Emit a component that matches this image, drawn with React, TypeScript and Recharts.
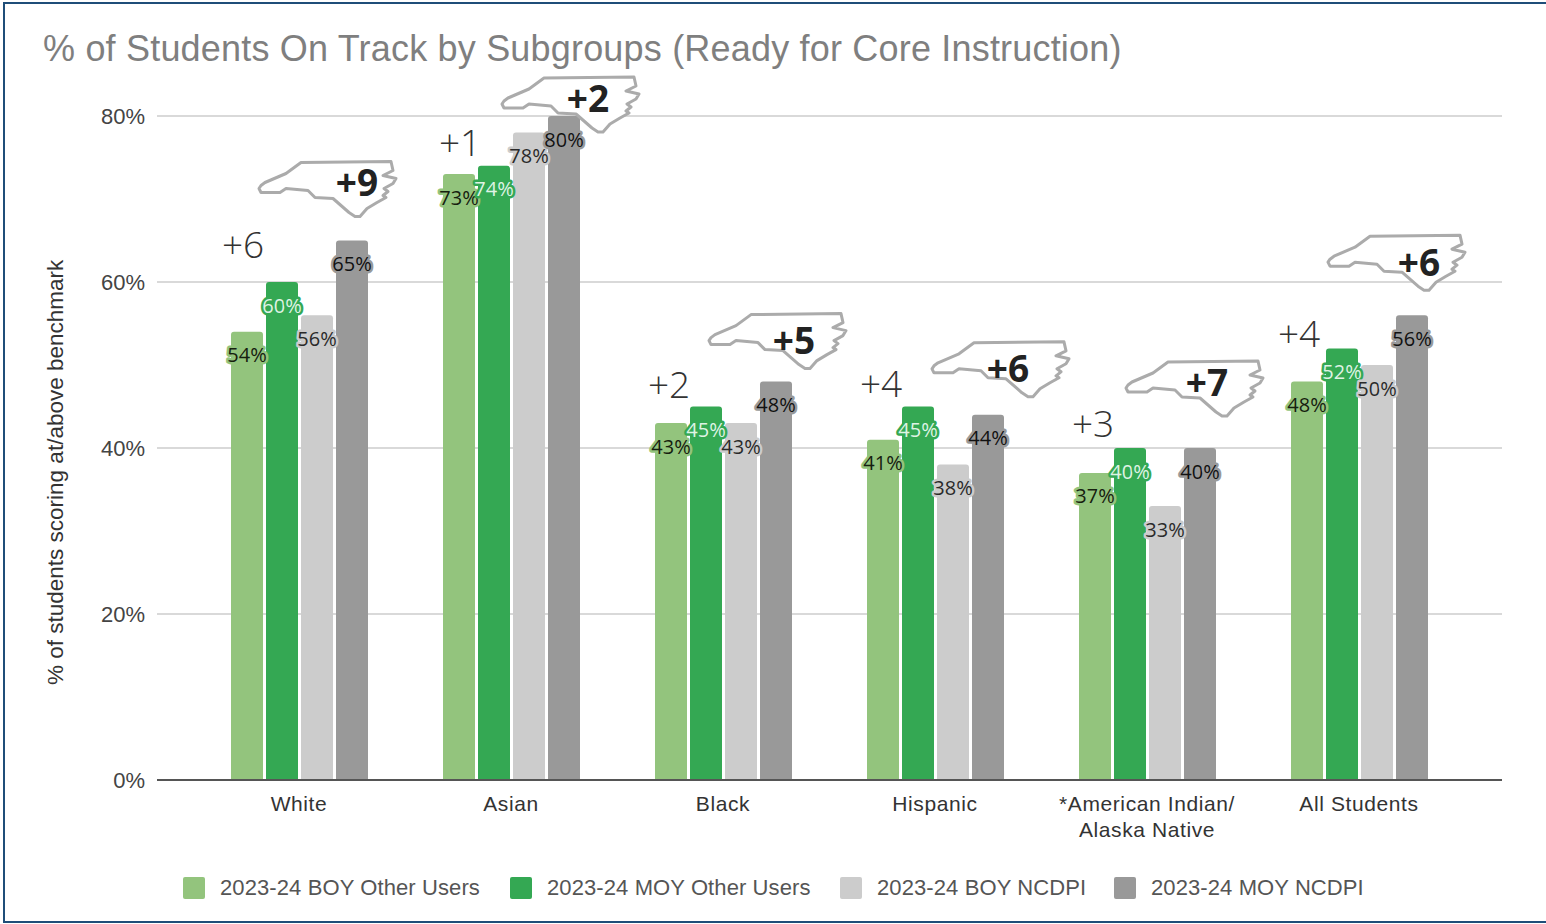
import React from "react";
import { BarChart, Bar, XAxis, YAxis, CartesianGrid, Legend, LabelList } from "recharts";

const categories = ["White", "Asian", "Black", "Hispanic", "*American Indian/ Alaska Native", "All Students"];
const boyOther = [54, 73, 43, 41, 37, 48];
const moyOther = [60, 74, 45, 45, 40, 52];
const boyNcdpi = [56, 78, 43, 38, 33, 50];
const moyNcdpi = [65, 80, 48, 44, 40, 56];
const deltaOther = [6, 1, 2, 4, 3, 4];
const deltaNcdpi = [9, 2, 5, 6, 7, 6];
const yTicks = [0, 20, 40, 60, 80];

const seriesNames = ["2023-24 BOY Other Users", "2023-24 MOY Other Users", "2023-24 BOY NCDPI", "2023-24 MOY NCDPI"];
const seriesColors = ["#93c47d", "#34a853", "#cccccc", "#999999"];
const labelColors = ["#16200f", "#dff3e4", "#2a2a2a", "#111111"];

const data = categories.map((name, i) => ({
  name,
  boyOther: boyOther[i],
  moyOther: moyOther[i],
  boyNcdpi: boyNcdpi[i],
  moyNcdpi: moyNcdpi[i],
  deltaOther: deltaOther[i],
  deltaNcdpi: deltaNcdpi[i],
}));

const SANS = "'Liberation Sans', Arial, sans-serif";
const OPEN = "'Open Sans', sans-serif";

// annotation layout, relative to the top-left of the anchoring bar
const deltaOffsets = [[12, -88], [17, -33], [14, -40], [14, -57], [14, -50], [8, -49]];
const shapeOffsets = [[-77, -79], [-46, -39], [-51, -68], [-40, -73], [-58, -87], [-68, -80]];
const shapeTextOffsets = [[98, 20], [86, 20], [85, 26], [76, 26], [81, 20], [91, 26]];
const NC_PATH =
  "M0 27 L2 24 L6 21 L27 12 L42 1 L132 0 L134 9 L124 14 L137 17 L134 22 L125 27 L129 30 L124 34 L127 36 L118 41 L108 47 L101 55 L96 55 L90 51 L74 37 L56 36 L49 29 L27 27 L21 31 L2 31 Z";

const makeValueLabel = (series: number) => (p: any) => {
  const cx = p.x + p.width / 2;
  return (
    <text
      x={cx}
      y={p.y + 23}
      textAnchor="middle"
      dominantBaseline="central"
      fontFamily={OPEN}
      fontSize={20}
      fill={labelColors[series]}
      stroke={seriesColors[series]}
      strokeWidth={5}
      strokeLinejoin="round"
      paintOrder="stroke"
    >
      {p.value}%
    </text>
  );
};

const DeltaLabel = (p: any) => {
  const [dx, dy] = deltaOffsets[p.index];
  return (
    <text
      x={p.x + dx}
      y={p.y + dy}
      textAnchor="middle"
      dominantBaseline="central"
      fontFamily={OPEN}
      fontWeight={300}
      fontSize={37}
      fill="#333333"
    >
      +{p.value}
    </text>
  );
};

const ShapeLabel = (p: any) => {
  const [dx, dy] = shapeOffsets[p.index];
  const [tx, ty] = shapeTextOffsets[p.index];
  return (
    <g transform={`translate(${p.x + dx},${p.y + dy})`}>
      <path d={NC_PATH} fill="#ffffff" stroke="#ababab" strokeWidth={3} strokeLinejoin="round" />
      <text
        x={tx}
        y={ty}
        textAnchor="middle"
        dominantBaseline="central"
        fontFamily={OPEN}
        fontWeight={700}
        fontSize={37}
        fill="#222222"
      >
        +{p.value}
      </text>
    </g>
  );
};

const CategoryTick = (p: any) => {
  const parts = String(p.payload.value).split("/ ");
  return (
    <text x={p.x} y={p.y} textAnchor="middle" fontFamily={SANS} fontSize={21} letterSpacing={0.6} fill="#333333">
      {parts.map((t, i) => (
        <tspan key={i} x={p.x} y={p.y + 23 + i * 26}>
          {i < parts.length - 1 ? t + "/" : t}
        </tspan>
      ))}
    </text>
  );
};

const legendStarts = [183, 510, 840, 1114];
const LegendContent = () => (
  <div style={{ position: "relative", height: 56, width: 1546 }}>
    {seriesNames.map((n, i) => (
      <div
        key={n}
        style={{
          position: "absolute",
          left: legendStarts[i],
          top: 21,
          display: "flex",
          alignItems: "center",
          whiteSpace: "nowrap",
        }}
      >
        <span
          style={{
            display: "inline-block",
            width: 22,
            height: 22,
            borderRadius: 2,
            background: seriesColors[i],
            marginRight: 15,
          }}
        />
        <span style={{ fontFamily: SANS, fontSize: 22, letterSpacing: 0.1, color: "#555555" }}>{n}</span>
      </div>
    ))}
  </div>
);

export default function App() {
  const keys = ["boyOther", "moyOther", "boyNcdpi", "moyNcdpi"];
  return (
    <div style={{ position: "fixed", left: 0, top: 0, width: 1546, height: 924, background: "#ffffff", overflow: "hidden" }}>
      <div style={{ position: "absolute", left: 3, top: 2, right: -4, bottom: 1, border: "2px solid #1f4e79" }} />
      <div
        style={{
          position: "absolute",
          left: 43,
          top: 27,
          fontFamily: SANS,
          fontSize: 36,
          letterSpacing: 0.19,
          color: "#7f7f7f",
          whiteSpace: "nowrap",
          lineHeight: "44px",
        }}
      >
        % of Students On Track by Subgroups (Ready for Core Instruction)
      </div>
      <BarChart
        width={1546}
        height={924}
        data={data}
        margin={{ top: 116, right: 44, left: 95, bottom: 14 }}
        barSize={32}
        barGap={3}
        barCategoryGap={0}
      >
        <CartesianGrid vertical={false} stroke="#d9d9d9" strokeWidth={2} />
        <XAxis
          dataKey="name"
          padding={{ left: 36, right: 37 }}
          axisLine={{ stroke: "#555555", strokeWidth: 2 }}
          tickLine={false}
          interval={0}
          height={74}
          tick={<CategoryTick />}
        />
        <YAxis
          domain={[0, 80]}
          ticks={yTicks}
          width={62}
          axisLine={false}
          tickLine={false}
          tickMargin={6}
          tickFormatter={(v: number) => `${v}%`}
          tick={{ fontFamily: SANS, fontSize: 22, fill: "#444444" }}
          label={{
            value: "% of students scoring at/above benchmark",
            angle: -90,
            position: "insideLeft",
            dx: -45,
            dy: 237,
            style: { fontFamily: SANS, fontSize: 22.5, fill: "#333333" },
          }}
        />
        <Legend verticalAlign="bottom" content={<LegendContent />} wrapperStyle={{ left: 0, width: 1546, height: 56 }} />
        {keys.map((k, i) => (
          <Bar key={k} dataKey={k} name={seriesNames[i]} fill={seriesColors[i]} radius={[3, 3, 0, 0]} isAnimationActive={false}>
            <LabelList dataKey={k} content={makeValueLabel(i)} />
            {i === 0 && <LabelList dataKey="deltaOther" content={DeltaLabel} />}
            {i === 3 && <LabelList dataKey="deltaNcdpi" content={ShapeLabel} />}
          </Bar>
        ))}
      </BarChart>
    </div>
  );
}
